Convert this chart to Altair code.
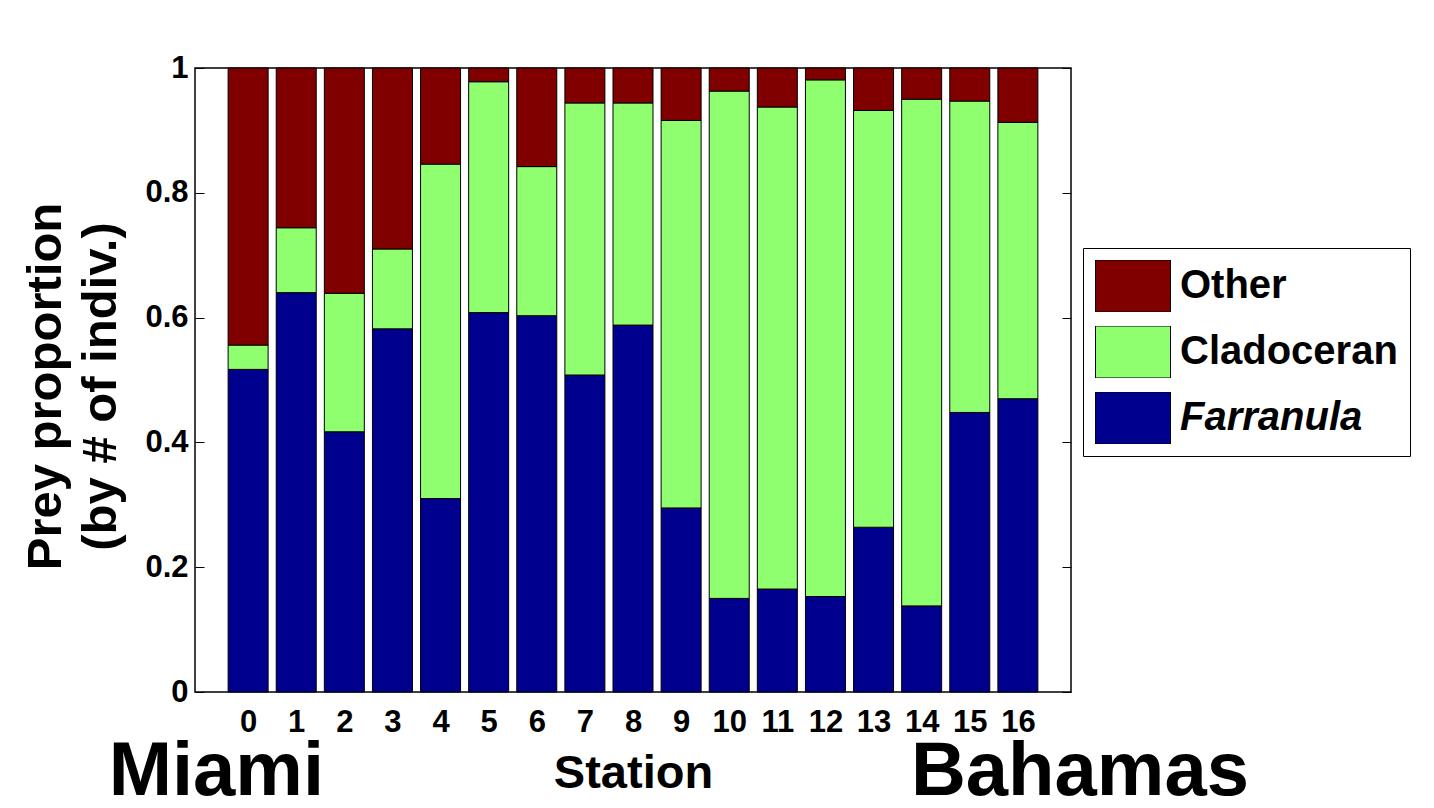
import altair as alt
import pandas as pd

# ---------------- data ----------------
stations = list(range(17))
farranula = [0.517, 0.640, 0.417, 0.582, 0.310, 0.608, 0.603, 0.508, 0.588,
             0.295, 0.150, 0.165, 0.153, 0.264, 0.138, 0.448, 0.470]
cladoceran = [0.039, 0.104, 0.222, 0.128, 0.536, 0.370, 0.239, 0.436, 0.356,
              0.621, 0.813, 0.7725, 0.828, 0.668, 0.812, 0.499, 0.443]
other = [0.444, 0.256, 0.361, 0.290, 0.154, 0.022, 0.158, 0.056, 0.056,
         0.084, 0.037, 0.0625, 0.019, 0.068, 0.050, 0.053, 0.087]
categories = ["Other", "Cladoceran", "Farranula"]
colors = ["#800000", "#8FFF70", "#00008F"]
y_ticks = [0, 0.2, 0.4, 0.6, 0.8, 1]
region_names = ["Miami", "Bahamas"]
region_x = [-0.66, 17.29]

rows = []
for i, s in enumerate(stations):
    rows.append({"station": s, "prey": "Farranula", "order": 0, "value": farranula[i]})
    rows.append({"station": s, "prey": "Cladoceran", "order": 1, "value": cladoceran[i]})
    rows.append({"station": s, "prey": "Other", "order": 2, "value": other[i]})
df = pd.DataFrame(rows)
ticks_df = pd.DataFrame({"tick": y_ticks})
regions_df = pd.DataFrame({"name": region_names, "rx": region_x})

FONT = "Liberation Sans"

x_scale = alt.Scale(domain=[-1, 17], nice=False, zero=False)
y_scale = alt.Scale(domain=[0, 1], nice=False, zero=False)

x_axis = alt.Axis(
    orient="bottom", values=stations, ticks=False, tickSize=0, domain=False, grid=False,
    labelFont=FONT, labelFontSize=31, labelFontWeight="bold", labelColor="black",
    labelPadding=15, labelFlush=False, labelOverlap=False,
    labelExpr="'' + datum.value",
    title="Station", titleFont=FONT, titleFontSize=47, titleFontWeight="bold",
    titleColor="black", titleY=95, titleBaseline="alphabetic",
)

y_axis = alt.Axis(
    orient="left", values=y_ticks, ticks=False, tickSize=0, domain=False, grid=False,
    labelFont=FONT, labelFontSize=31, labelFontWeight="bold", labelColor="black",
    labelPadding=7, labelOverlap=False, labelFlush=False, labelBaseline="middle",
    labelExpr="'' + datum.value",
    title=["Prey proportion", "(by # of indiv.)"], titleFont=FONT, titleFontSize=49,
    titleFontWeight="bold", titleColor="black", titleAngle=270,
    titleBaseline="alphabetic", titleLineHeight=55, titleX=-135, titleY=318,
)

legend = alt.Legend(
    orient="none", legendX=888, legendY=180, title=None,
    symbolType="M-1,-0.693L1,-0.693L1,0.693L-1,0.693Z", symbolSize=5625,
    symbolStrokeColor="black", symbolStrokeWidth=1, symbolOpacity=1,
    labelFont=FONT, labelFontSize=40, labelFontWeight="bold", labelColor="black",
    labelLimit=400, labelOffset=9,
    labelFontStyle={"expr": "datum.label == 'Farranula' ? 'italic' : 'normal'"},
    strokeColor="black", fillColor="white", padding=12, rowPadding=14,
    clipHeight=52,
)

bars = alt.Chart(df).mark_bar(width=40, stroke="black", strokeWidth=1).encode(
    x=alt.X("station:Q", scale=x_scale, axis=x_axis),
    y=alt.Y("value:Q", stack="zero", scale=y_scale, axis=y_axis),
    color=alt.Color("prey:N", scale=alt.Scale(domain=categories, range=colors),
                    legend=legend),
    order=alt.Order("order:Q", sort="ascending"),
)

tick_axis_common = dict(values=y_ticks, labels=False, domain=False, grid=False,
                        title=None, offset=-9, tickSize=9, tickColor="black",
                        tickWidth=1)

ticks_left = alt.Chart(ticks_df).mark_point(opacity=0).encode(
    y=alt.Y("tick:Q", scale=y_scale, axis=alt.Axis(orient="left", **tick_axis_common)),
)
ticks_right = alt.Chart(ticks_df).mark_point(opacity=0).encode(
    y=alt.Y("tick:Q", scale=y_scale, axis=alt.Axis(orient="right", **tick_axis_common)),
)

regions = alt.Chart(regions_df).mark_text(
    font=FONT, fontSize=76, fontWeight="bold", baseline="alphabetic",
    align="center", color="black",
).encode(
    x=alt.X("rx:Q", scale=x_scale, axis=None),
    y=alt.value(727),
    text="name:N",
)

chart = alt.layer(bars, ticks_left, ticks_right, regions).resolve_axis(
    x="independent", y="independent"
).properties(
    width=876, height=624,
    autosize=alt.AutoSizeParams(type="none"),
    padding={"left": 187, "top": 60, "right": 352, "bottom": 108},
    background="white",
).configure_view(
    stroke="black", strokeWidth=1.5,
)

chart.save("out.html", embed_options={"renderer": "svg", "actions": False})
